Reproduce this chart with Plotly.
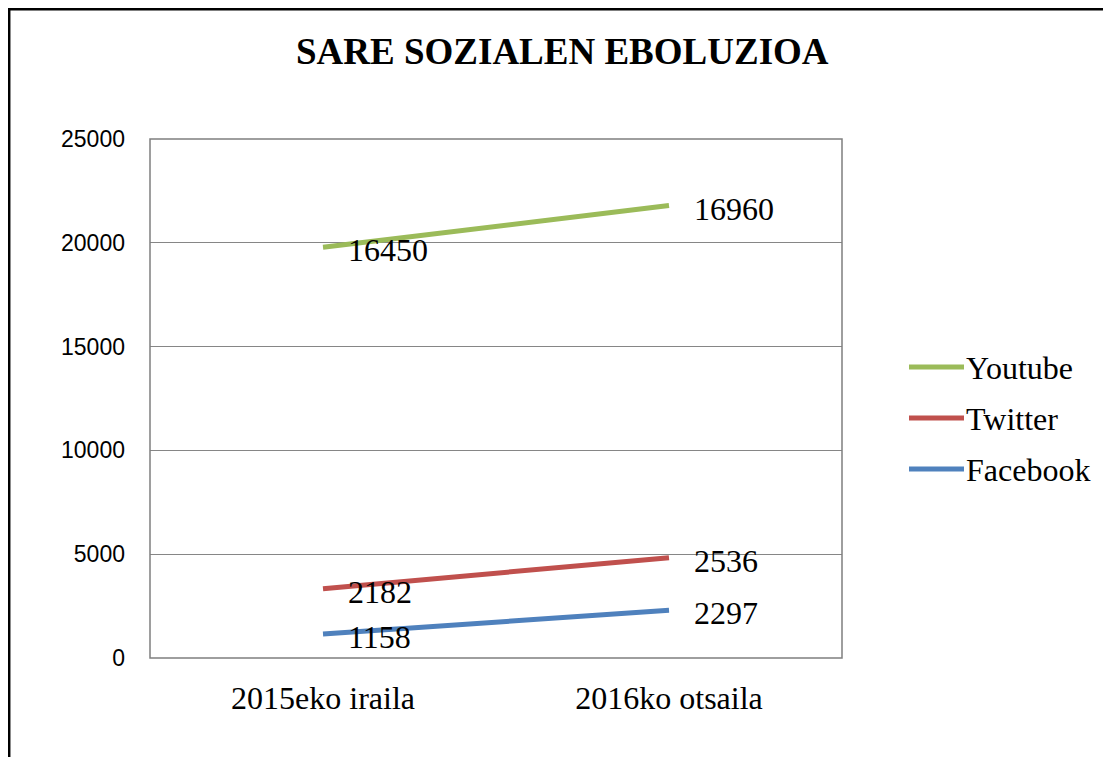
import numpy as np
import plotly.graph_objects as go

categories = ["2015eko iraila", "2016ko otsaila"]
series_names = ["Facebook", "Twitter", "Youtube"]
facebook = [1158, 2297]
twitter = [2182, 2536]
youtube = [16450, 16960]
colors = ["#4F81BD", "#C0504D", "#9BBB59"]
y_ticks = [0, 5000, 10000, 15000, 20000, 25000]

values = [facebook, twitter, youtube]
stacked = np.cumsum(np.array(values), axis=0)

# page body has an 8px default margin; work in reference pixel coords minus 8
OFF = 8
W, H = 1111 - OFF, 757 - OFF
L, R, T, B = 150 - OFF, 842 - OFF, 139 - OFF, 658 - OFF
pw, ph = R - L, B - T


def px(x):
    return (x - OFF - L) / pw


def py(y):
    return (B - (y - OFF)) / ph


serif = "Liberation Serif, Times New Roman, serif"
sans = "Liberation Sans, Arial, sans-serif"

fig = go.Figure()
annotations = []
shapes = []
for i, name in enumerate(series_names):
    fig.add_trace(go.Scatter(
        x=categories, y=stacked[i], mode="lines", name=name,
        line=dict(color=colors[i], width=5), showlegend=False,
        hoverinfo="skip",
    ))
    for j, c in enumerate(categories):
        annotations.append(dict(
            x=c, y=stacked[i][j], xref="x", yref="y", text=str(values[i][j]),
            showarrow=False, xanchor="left", yanchor="middle", xshift=23, yshift=-3,
            font=dict(family=serif, size=32, color="black"),
        ))

# manual legend (Youtube, Twitter, Facebook from top)
legend_y = [367, 418, 469]
for k, i in enumerate(reversed(range(len(series_names)))):
    shapes.append(dict(type="line", xref="paper", yref="paper",
                       x0=px(909), x1=px(964), y0=py(legend_y[k]), y1=py(legend_y[k]),
                       line=dict(color=colors[i], width=5)))
    annotations.append(dict(x=px(964), y=py(legend_y[k] + 1), xref="paper", yref="paper",
                            text=series_names[i], showarrow=False, xanchor="left",
                            yanchor="middle", font=dict(family=serif, size=32, color="black")))

# title
annotations.append(dict(x=px(562), y=py(51), xref="paper", yref="paper",
                        text="<b>SARE SOZIALEN EBOLUZIOA</b>", showarrow=False,
                        xanchor="center", yanchor="middle",
                        font=dict(family=serif, size=37, color="black")))

# plot area border
shapes.append(dict(type="rect", xref="paper", yref="paper", x0=0, x1=1, y0=0, y1=1,
                   line=dict(color="#7f7f7f", width=1.5), layer="above"))
# outer chart frame (top and left edges)
shapes.append(dict(type="line", xref="paper", yref="paper", x0=px(9), x1=px(1115),
                   y0=py(9.2), y1=py(9.2), line=dict(color="black", width=2.5)))
shapes.append(dict(type="line", xref="paper", yref="paper", x0=px(9.2), x1=px(9.2),
                   y0=py(8), y1=py(760), line=dict(color="black", width=2.5)))

fig.update_layout(
    width=W, height=H,
    margin=dict(l=L, r=W - R, t=T, b=H - B, pad=0),
    paper_bgcolor="white", plot_bgcolor="white",
    showlegend=False,
    annotations=annotations, shapes=shapes,
    xaxis=dict(type="category", range=[-0.5, 1.5], showgrid=False, zeroline=False,
               showline=False, ticks="", ticklabelstandoff=18,
               tickfont=dict(family=serif, size=32, color="black")),
    yaxis=dict(range=[0, 25000], tickvals=y_ticks, ticktext=[str(v) for v in y_ticks],
               showgrid=True, gridcolor="#868686", gridwidth=1, zeroline=False,
               showline=False, ticks="", ticklabelstandoff=24,
               tickfont=dict(family=sans, size=23, color="black")),
)

fig.write_html("out.html")
